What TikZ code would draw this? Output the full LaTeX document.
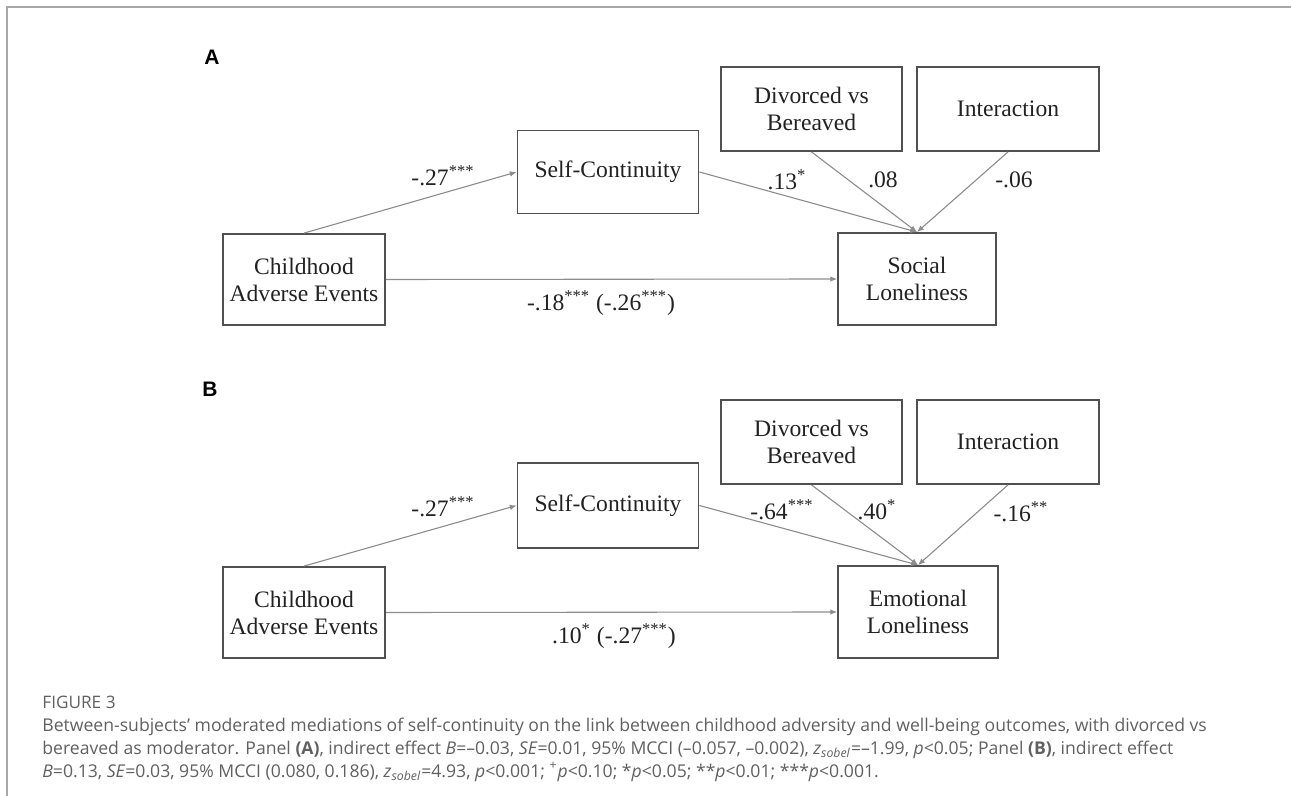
\documentclass[tikz,border=0pt]{standalone}
\usepackage{fontspec}
\setmainfont{Liberation Serif}
\newfontfamily\capfont{Open Sans}
\newfontfamily\panelfont{Liberation Sans}
\usetikzlibrary{arrows.meta}

\definecolor{boxgray}{HTML}{505050}
\definecolor{linegray}{HTML}{8C8C8C}
\definecolor{capgray}{HTML}{606060}
\definecolor{framegray}{HTML}{A8A8A8}
\definecolor{txtgray}{HTML}{222222}

\newcommand{\sig}[1]{\textsuperscript{#1}}

\begin{document}
\begin{tikzpicture}[x=0.5pt,y=-0.5pt]
\tikzset{var/.style = {shape=rectangle,draw=boxgray,line width=0.9pt,align=center,text=txtgray,font=\fontsize{11.8}{13.5}\selectfont,inner sep=0pt}}
\tikzset{edge/.style = {-{Latex[length=3.4pt,width=2.8pt]},draw=linegray,line width=0.55pt}}
\tikzset{coef/.style = {text=txtgray,font=\fontsize{11.8}{13.5}\selectfont,inner sep=0pt}}
\tikzset{panel/.style = {font=\panelfont\bfseries\fontsize{10.5}{12}\selectfont,inner sep=0pt}}

\useasboundingbox (0,0) rectangle (1291,796);

% frame
\draw[framegray,line width=1pt] (7,796) -- (7,7) -- (1291,7);

% panel A

\node[panel] (pa) at (212,57) {A};

\node[var,minimum width=81pt,minimum height=45.5pt] (childA) at (304,279.5) {Childhood\\Adverse Events};
\node[var,minimum width=90.5pt,minimum height=41.5pt] (selfA) at (608,172) {Self-Continuity};
\node[var,minimum width=90.5pt,minimum height=42pt] (divA) at (811.5,109) {Divorced vs\\Bereaved};
\node[var,minimum width=91pt,minimum height=42pt] (interA) at (1008,109) {Interaction};
\node[var,minimum width=79pt,minimum height=46pt] (socA) at (917,279) {Social\\Loneliness};

\draw[edge] (childA.north) to (selfA.west);
\draw[edge] (selfA.east) to (socA.north);
\draw[edge] (divA.south) to (socA.north);
\draw[edge] (interA.south) to (socA.north);
\draw[edge] (childA.east) to (socA.west);

\node[coef] (cA1) at (443,176) {-.27\sig{***}};
\node[coef] (cA2) at (787,180) {.13\sig{*}};
\node[coef] (cA3) at (883,180) {.08};
\node[coef] (cA4) at (1014,180) {-.06};
\node[coef] (cA5) at (601,303) {-.18\sig{***} (-.26\sig{***})};

% panel B

\node[panel] (pb) at (210,389) {B};

\node[var,minimum width=81pt,minimum height=45.5pt] (childB) at (304,612.5) {Childhood\\Adverse Events};
\node[var,minimum width=90.5pt,minimum height=42.5pt] (selfB) at (608,505.5) {Self-Continuity};
\node[var,minimum width=90.5pt,minimum height=42pt] (divB) at (811.5,442) {Divorced vs\\Bereaved};
\node[var,minimum width=91pt,minimum height=42pt] (interB) at (1008,442) {Interaction};
\node[var,minimum width=80pt,minimum height=46pt] (emoB) at (918,612) {Emotional\\Loneliness};

\draw[edge] (childB.north) to (selfB.west);
\draw[edge] (selfB.east) to (emoB.north);
\draw[edge] (divB.south) to (emoB.north);
\draw[edge] (interB.south) to (emoB.north);
\draw[edge] (childB.east) to (emoB.west);

\node[coef] (cB1) at (443,507) {-.27\sig{***}};
\node[coef] (cB2) at (782,510) {-.64\sig{***}};
\node[coef] (cB3) at (877,510) {.40\sig{*}};
\node[coef] (cB4) at (1021,512) {-.16\sig{**}};
\node[coef] (cB5) at (614,636) {.10\sig{*} (-.27\sig{***})};

% caption

\node[anchor=west,inner sep=0pt,text=capgray,font=\capfont\fontsize{8.6}{11.5}\selectfont] (fig) at (42,702) {FIGURE 3};
\node[anchor=west,inner sep=0pt,align=left,text=capgray,font=\capfont\fontsize{8.8}{11.5}\selectfont] (cap) at (42,750) {Between-subjects’ moderated mediations of self-continuity on the link between childhood adversity and well-being outcomes, with divorced vs\\
bereaved as moderator. Panel \textbf{(A)}, indirect effect \textit{B}=\textendash0.03, \textit{SE}=0.01, 95\% MCCI (\textendash0.057, \textendash0.002), \textit{z}\textsubscript{\textit{sobel}}=\textendash1.99, \textit{p}<0.05; Panel \textbf{(B)}, indirect effect\\
\textit{B}=0.13, \textit{SE}=0.03, 95\% MCCI (0.080, 0.186), \textit{z}\textsubscript{\textit{sobel}}=4.93, \textit{p}<0.001; \textsuperscript{+}\textit{p}<0.10; *\textit{p}<0.05; **\textit{p}<0.01; ***\textit{p}<0.001.};
\end{tikzpicture}
\end{document}
